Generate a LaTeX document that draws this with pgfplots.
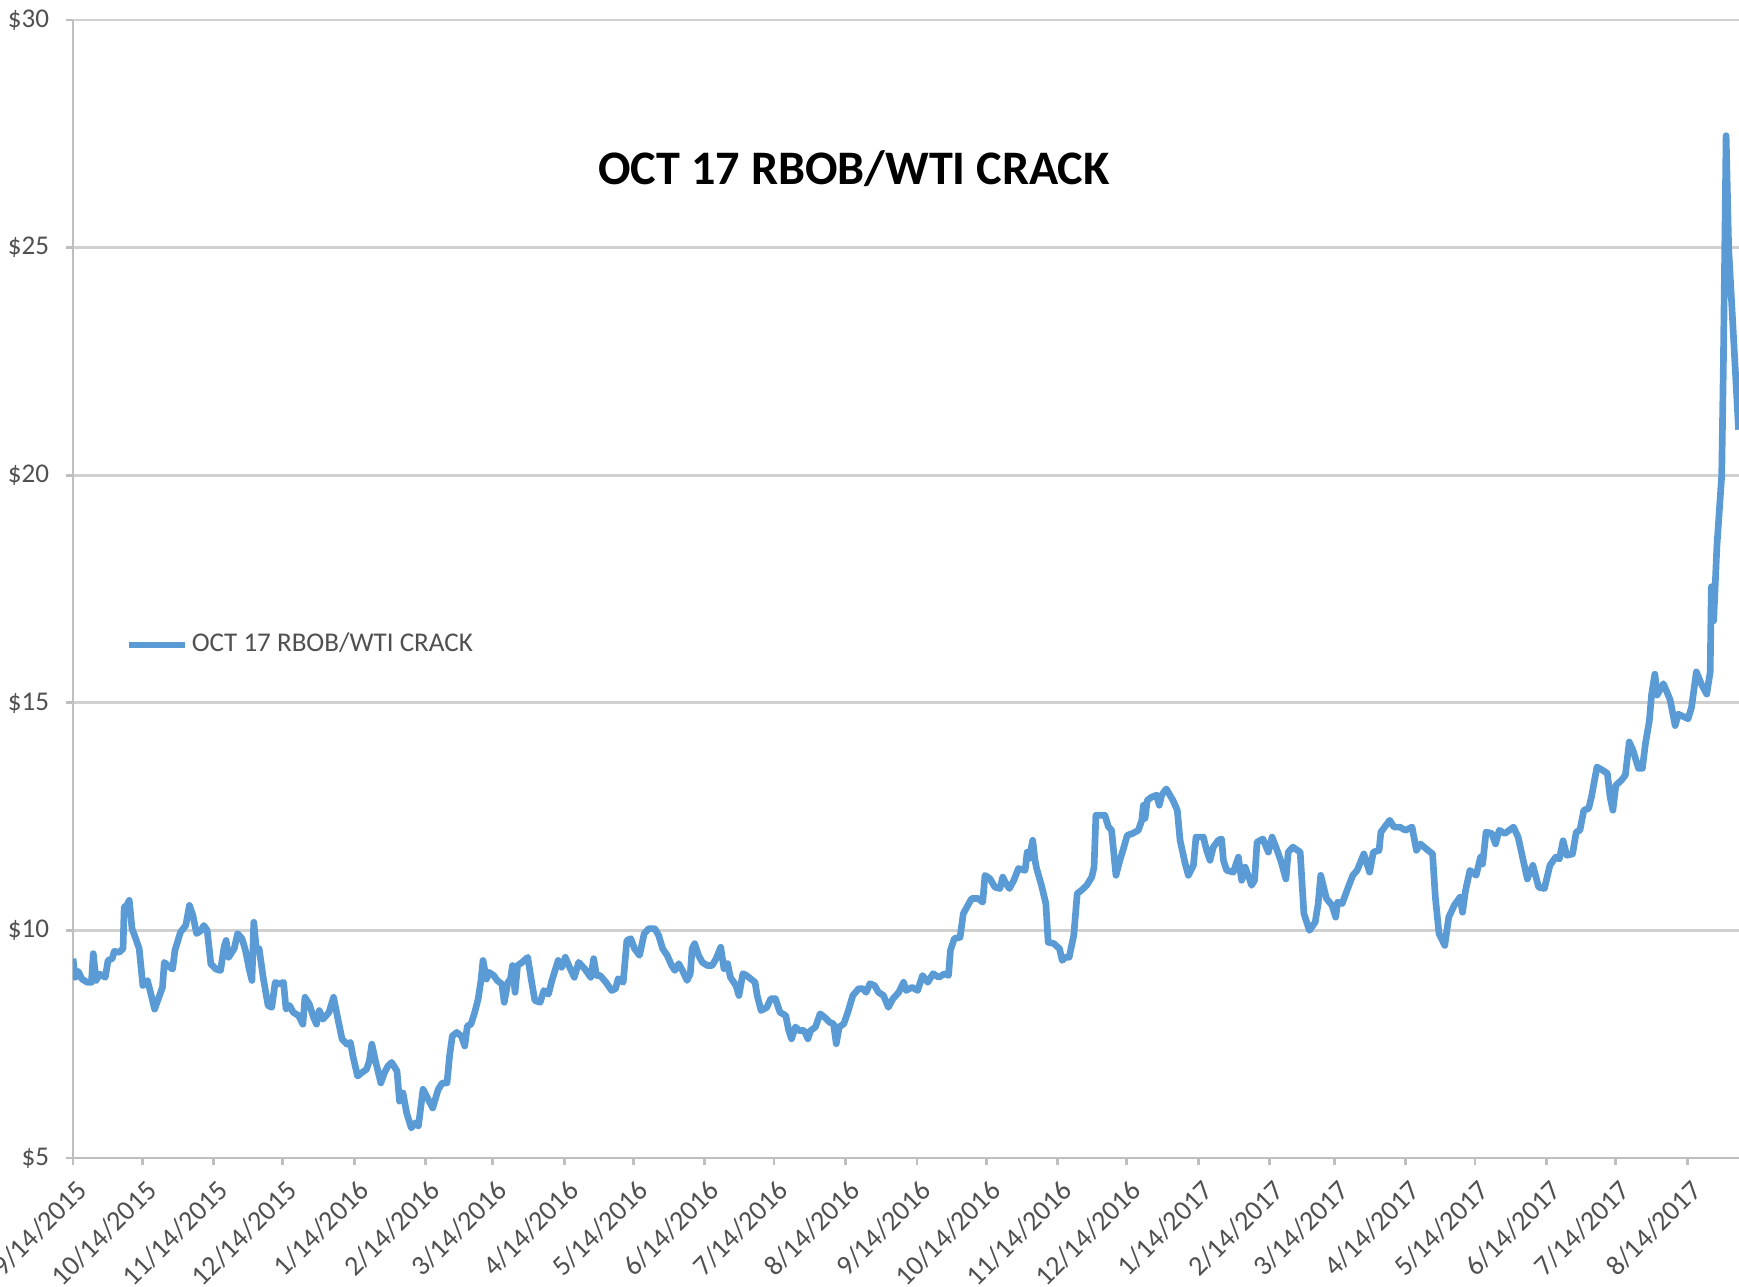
\documentclass[border=0pt]{standalone}
\usepackage{fontspec}
\setmainfont{Carlito}
\usepackage{pgfplots}
\usepackage{pgfplotstable}
\pgfplotsset{compat=1.18}
\definecolor{linec}{HTML}{5B9BD5}
\definecolor{gridc}{HTML}{D0D0D0}
\definecolor{axisc}{HTML}{BFBFBF}
\definecolor{lab}{HTML}{505050}

\pgfplotstableread{
day val
0 9.38
1 8.97
2.3 9.10
3.9 8.93
6.2 8.86
8 8.86
8.8 9.49
10 8.90
11.6 9.04
14 8.97
15.2 9.34
17 9.38
17.9 9.54
20 9.52
21.7 9.60
22.2 10.51
23.3 10.55
24.4 10.66
25.6 10.04
27.2 9.82
28.7 9.60
30.3 8.79
32.3 8.90
33.8 8.60
35.4 8.27
38.8 8.75
39.6 9.30
41 9.23
43.2 9.15
44.2 9.56
46.6 9.96
48.9 10.11
50.5 10.55
52 10.33
53.6 9.93
55.6 10.00
56.7 10.11
58.2 10.00
59.8 9.26
62 9.15
64 9.12
65.5 9.63
66.4 9.78
67.5 9.41
69.9 9.60
71.4 9.93
73.3 9.82
74.8 9.56
76.4 9.15
77.6 8.90
78.4 10.18
79.5 9.60
80.7 9.60
82.6 8.93
84.6 8.35
86.2 8.31
87.7 8.86
89.3 8.82
91.3 8.86
92.4 8.27
93.9 8.35
95.5 8.20
97.8 8.13
99.7 7.94
100.6 8.53
102.5 8.38
104.3 8.09
105.6 7.94
106.8 8.24
108.4 8.05
111 8.20
113 8.53
114.9 8.05
116.7 7.61
118.8 7.50
120.3 7.54
121.4 7.24
123.4 6.80
125.4 6.88
127.3 6.95
128.5 7.13
129.6 7.50
131.2 7.13
133.5 6.65
135.1 6.88
136.6 7.02
138.2 7.10
140.5 6.91
141.6 6.25
143.1 6.43
144.7 5.99
146.7 5.66
148.3 5.77
149.8 5.70
151.8 6.51
153.7 6.32
156 6.10
158.4 6.51
160.2 6.65
162.2 6.65
163.3 7.24
164.5 7.68
166.4 7.76
168.4 7.68
169.9 7.46
171 7.90
172.6 7.94
174.2 8.20
175.7 8.49
177 8.93
177.8 9.34
179.3 8.93
180.4 9.08
182.4 9.01
184 8.90
186 8.82
187 8.42
188.6 8.86
189.7 8.93
190.6 9.23
191.7 8.64
192.8 9.23
194.8 9.30
197.2 9.41
198.7 8.93
200.3 8.46
202.6 8.42
204.2 8.68
206.2 8.60
207.7 8.90
210.4 9.34
211.9 9.19
213.5 9.41
215 9.23
217.4 8.97
219.3 9.30
222 9.15
224.5 8.97
225.8 9.38
227 9.01
228.6 9.01
231.1 8.86
233.6 8.68
235.3 8.72
236.4 8.94
238.6 8.86
240.2 9.78
241.9 9.82
243.5 9.60
245.7 9.45
247.7 9.93
249.7 10.04
252.3 10.04
254 9.89
255.7 9.60
257.7 9.45
259.6 9.23
261 9.12
262.7 9.27
264.3 9.12
266.3 8.90
267.7 9.05
268.5 9.60
269.6 9.71
271.3 9.45
272.9 9.30
275 9.23
277.2 9.23
278.9 9.38
280.9 9.63
282.3 9.16
283.9 9.27
285.1 8.97
287.5 8.79
288.8 8.57
290.5 9.05
292.1 9.01
295.8 8.86
296.7 8.57
298.4 8.24
300.9 8.31
302.6 8.50
304.6 8.50
306.6 8.20
309.1 8.13
310.4 7.80
311.6 7.62
313.3 7.88
314.9 7.80
317.1 7.80
318.7 7.62
319.9 7.80
322 7.88
324 8.17
326 8.09
328.2 7.98
329.8 7.95
331 7.51
332.3 7.88
334.3 7.95
336 8.20
338.2 8.57
340.7 8.72
342.4 8.72
344 8.64
345.6 8.83
347.6 8.79
349.3 8.64
351.5 8.57
353.6 8.31
355.6 8.50
358.1 8.64
360.2 8.86
361.3 8.68
363.9 8.75
366.3 8.68
368.4 9.01
370.7 8.86
373 9.05
375.5 8.97
378 9.05
379.7 9.01
380.5 9.56
382.2 9.82
384.7 9.85
386.1 10.37
387.3 10.48
389.7 10.70
392.6 10.70
394.5 10.62
395.5 11.21
397.6 11.14
399.8 10.95
402 10.92
403.2 11.17
404.6 11.03
406.1 10.92
408 11.10
410 11.36
412.9 11.32
413.8 11.72
414.7 11.58
416.2 11.98
417.2 11.54
417.9 11.36
420 10.99
421.9 10.59
422.9 9.74
425.4 9.71
427.8 9.60
429 9.34
430.3 9.41
432 9.41
434 9.89
435.5 10.81
437.3 10.88
439.6 10.99
441.8 11.17
442.8 11.39
443.6 12.53
447.5 12.53
449 12.28
450.4 12.20
452.3 11.21
454 11.54
455.5 11.79
457.2 12.09
459.5 12.13
462 12.20
463.5 12.42
464.2 12.75
464.9 12.46
465.9 12.86
467.8 12.93
469.9 12.97
471.1 12.75
472.1 12.97
474.1 13.11
477 12.86
478.9 12.64
480.1 11.98
482.3 11.47
483.7 11.21
485.9 11.43
487 12.05
490.2 12.05
491.6 11.76
493.1 11.54
494.5 11.83
496.7 11.98
498.1 12.01
498.9 11.54
500.3 11.32
503.2 11.28
505.4 11.61
506.8 11.10
508.3 11.39
510.4 11.10
511.1 10.99
512.4 11.10
513.5 11.94
516 12.01
518.4 11.72
520 12.05
522.2 11.76
523.8 11.53
526 11.13
527 11.72
529 11.83
532.2 11.72
533.8 10.37
536.2 10.00
538.7 10.18
540 10.59
541.1 11.21
543.6 10.70
546 10.55
547.6 10.29
548.4 10.62
550.4 10.59
552.5 10.88
555 11.21
556.9 11.32
559.8 11.68
562.3 11.28
563.9 11.72
566.4 11.76
567.2 12.16
568.8 12.27
571 12.42
572.9 12.27
575.4 12.27
577.8 12.20
580.7 12.27
582.6 11.76
584.3 11.90
587.6 11.76
589.6 11.68
590.8 10.73
592.4 9.93
594.9 9.67
596.6 10.29
599 10.55
601.5 10.73
602.6 10.40
603.9 10.88
605.8 11.32
608.5 11.21
610.4 11.61
611.3 11.46
612.8 12.16
615.3 12.13
616.9 11.90
618.5 12.20
621 12.13
624.7 12.27
626.7 12.05
630.7 11.13
633.1 11.43
635.6 10.95
638.1 10.92
640.5 11.43
643 11.61
644.6 11.57
646.2 11.97
647.8 11.65
650.3 11.68
651.9 12.16
653.5 12.20
655.2 12.64
657.3 12.68
658.5 12.93
660.9 13.59
663.3 13.52
665.4 13.45
666.6 12.93
667.8 12.64
669.1 13.19
671.5 13.30
673.2 13.41
674.9 14.14
676.5 13.96
678.9 13.56
680.6 13.56
681.9 14.10
683.6 14.60
684.6 15.19
686 15.63
687 15.17
689.7 15.42
692.6 15.07
694.8 14.50
696.2 14.75
700.4 14.65
701.9 14.90
704 15.68
706.1 15.42
708.5 15.19
710 15.68
710.5 17.55
711.5 16.80
712.9 18.43
715 20.00
715.7 22.36
716.9 27.46
718 25.00
722.3 21.00
}\crack

\begin{document}
\begin{tikzpicture}
\begin{axis}[
  at={(0.73cm,1.28cm)}, anchor=south west,
  scale only axis, width=16.66cm, height=11.38cm,
  xmin=0, xmax=722.5, ymin=5, ymax=30,
  axis x line*=bottom, axis y line*=left,
  axis line style={axisc, line width=0.8pt},
  ymajorgrids, grid style={gridc, line width=0.8pt},
  ytick={5,10,15,20,25,30},
  yticklabels={\$5,\$10,\$15,\$20,\$25,\$30},
  xtick={0,30,61,91,122,153,182,213,243,274,304,335,366,396,427,457,488,519,547,578,608,639,669,700},
  xticklabels={9/14/2015,10/14/2015,11/14/2015,12/14/2015,1/14/2016,2/14/2016,3/14/2016,4/14/2016,5/14/2016,6/14/2016,7/14/2016,8/14/2016,9/14/2016,10/14/2016,11/14/2016,12/14/2016,1/14/2017,2/14/2017,3/14/2017,4/14/2017,5/14/2017,6/14/2017,7/14/2017,8/14/2017},
  tick align=outside, major tick length=0.07cm,
  tick style={axisc, line width=0.8pt},
  ticklabel style={font=\fontsize{7.7}{9}\selectfont, text=lab},
  yticklabel style={anchor=east, xshift=-0.045cm},
  xticklabel style={xshift=0.1cm, yshift=-0.2cm, rotate=45, anchor=east, inner sep=0pt, font=\fontsize{8}{9}\selectfont},
  legend style={at={(axis cs:22.5,16.27)}, anchor=west, draw=none, fill=none,
    font=\fontsize{7.7}{9}\selectfont, text=lab, inner sep=0pt,
    nodes={inner sep=1pt}},
  legend image code/.code={\draw[#1] (0cm,0cm) -- (0.56cm,0cm);},
]
\addplot[linec, line width=1.9pt, line join=round] table[x=day,y=val] {\crack};
\addlegendentry{OCT 17 RBOB/WTI CRACK}
\node[font=\bfseries\fontsize{13.7}{16}\selectfont] at (axis cs:338.7,26.73) {OCT 17 RBOB/WTI CRACK};
\end{axis}
\pgfresetboundingbox
\path[use as bounding box] (0,0) rectangle (17.39cm,12.86cm);
\end{tikzpicture}
\end{document}
